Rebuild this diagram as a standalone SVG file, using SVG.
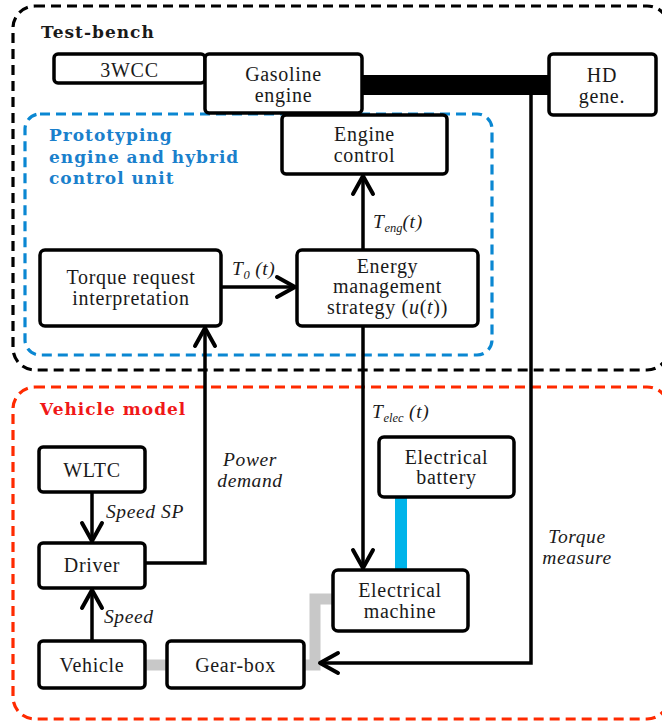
<svg xmlns="http://www.w3.org/2000/svg" width="662" height="724" viewBox="0 0 662 724">
<defs>
<style>
.box{fill:#fff;stroke:#000;stroke-width:3.5}
.t{font-family:"Liberation Serif","DejaVu Serif",serif;font-size:20px;letter-spacing:0.7px;fill:#1a1a1a;text-anchor:middle}
.i{font-family:"Liberation Serif","DejaVu Serif",serif;font-size:19.5px;letter-spacing:0.6px;font-style:italic;fill:#1a1a1a}
.h{font-family:"DejaVu Serif","Liberation Serif",serif;font-size:17px;font-weight:bold;letter-spacing:1px}
.sub{font-size:12.5px;letter-spacing:0}
.c{fill:none;stroke:#000;stroke-width:3.5;stroke-linejoin:miter}
.cont{fill:none;stroke-width:3.2;stroke-dasharray:10 6}
</style>
<marker id="arr" markerUnits="userSpaceOnUse" viewBox="-22 -13 25 26" markerWidth="25" markerHeight="26" refX="0" refY="0" orient="auto">
<path d="M-18,-10 L0,0 L-18,10" fill="none" stroke="#000" stroke-width="4" stroke-linecap="round" stroke-linejoin="round"/>
</marker>
</defs>
<rect width="662" height="724" fill="#fff"/>

<g id="containers">
<rect class="cont" x="13" y="6" width="656" height="364" rx="22" stroke="#000"/>
<rect class="cont" x="25" y="114" width="467" height="241" rx="15" stroke="#0a87d2"/>
<rect class="cont" x="13" y="387" width="656" height="332" rx="22" stroke="#ff2a00"/>
<text class="h" x="41" y="38" fill="#1a1a1a">Test-bench</text>
<text class="h" fill="#1a80cc"><tspan x="49" y="141">Prototyping</tspan><tspan x="49" y="163">engine and hybrid</tspan><tspan x="49" y="184">control unit</tspan></text>
<text class="h" x="40" y="415" fill="#f01818">Vehicle model</text>
</g>

<g id="connectors">
<rect x="362" y="75" width="187" height="20" fill="#000"/>
<path d="M401,497 V570" stroke="#00b4ea" stroke-width="12" fill="none"/>
<path d="M145,665 H167" stroke="#c8c8c8" stroke-width="11" fill="none"/>
<path d="M304,665 H315 V599 H333" stroke="#c8c8c8" stroke-width="11" fill="none"/>
<path class="c" d="M531,95 V663 H320" marker-end="url(#arr)"/>
<path class="c" d="M222,287 H295" marker-end="url(#arr)"/>
<path class="c" d="M363,250 V176" marker-end="url(#arr)"/>
<path class="c" d="M363,326 V568" marker-end="url(#arr)"/>
<path class="c" d="M92,492 V541" marker-end="url(#arr)"/>
<path class="c" d="M92,641 V590" marker-end="url(#arr)"/>
<path class="c" d="M145,563 H205 V328" marker-end="url(#arr)"/>
<text class="i" x="232" y="275">T<tspan class="sub" dy="4">0</tspan><tspan dy="-4"> (t)</tspan></text>
<text class="i" x="373" y="228">T<tspan class="sub" dy="4">eng</tspan><tspan dy="-4">(t)</tspan></text>
<text class="i" x="372" y="418">T<tspan class="sub" dy="4">elec</tspan><tspan dy="-4"> (t)</tspan></text>
<text class="i" x="106" y="518">Speed SP</text>
<text class="i" x="104" y="623">Speed</text>
<text class="i" text-anchor="middle"><tspan x="250" y="466">Power</tspan><tspan x="250" y="487">demand</tspan></text>
<text class="i" text-anchor="middle"><tspan x="577" y="543">Torque</tspan><tspan x="577" y="564">measure</tspan></text>
</g>

<g id="n3wcc"><rect class="box" x="54" y="54" width="151" height="29" rx="4"/><text class="t" x="129.5" y="77">3WCC</text></g>
<g id="gasoline"><rect class="box" x="205" y="54" width="157" height="59" rx="4"/><text class="t"><tspan x="283.5" y="81">Gasoline</tspan><tspan x="283.5" y="102">engine</tspan></text></g>
<g id="hd"><rect class="box" x="549" y="54" width="107" height="61" rx="4"/><text class="t"><tspan x="602" y="82">HD</tspan><tspan x="602" y="103">gene.</tspan></text></g>
<g id="enginecontrol"><rect class="box" x="282" y="115" width="165" height="59" rx="4"/><text class="t"><tspan x="364.5" y="141">Engine</tspan><tspan x="364.5" y="162">control</tspan></text></g>
<g id="torquereq"><rect class="box" x="40" y="250" width="181" height="76" rx="5"/><text class="t"><tspan x="131" y="284">Torque request</tspan><tspan x="131" y="305">interpretation</tspan></text></g>
<g id="ems"><rect class="box" x="297" y="250" width="181" height="76" rx="5"/><text class="t"><tspan x="387.5" y="273">Energy</tspan><tspan x="387.5" y="293">management</tspan><tspan x="387.5" y="314">strategy (<tspan font-style="italic">u</tspan>(<tspan font-style="italic">t</tspan>))</tspan></text></g>
<g id="battery"><rect class="box" x="379" y="437" width="135" height="60" rx="5"/><text class="t"><tspan x="446.5" y="464">Electrical</tspan><tspan x="446.5" y="484">battery</tspan></text></g>
<g id="machine"><rect class="box" x="333" y="570" width="135" height="61" rx="5"/><text class="t"><tspan x="400" y="597">Electrical</tspan><tspan x="400" y="618">machine</tspan></text></g>
<g id="wltc"><rect class="box" x="39" y="447" width="106" height="45" rx="4"/><text class="t" x="92" y="477">WLTC</text></g>
<g id="driver"><rect class="box" x="39" y="543" width="106" height="45" rx="4"/><text class="t" x="92" y="572">Driver</text></g>
<g id="vehicle"><rect class="box" x="39" y="641" width="106" height="47" rx="4"/><text class="t" x="92" y="672">Vehicle</text></g>
<g id="gearbox"><rect class="box" x="167" y="641" width="137" height="47" rx="4"/><text class="t" x="235.5" y="672">Gear-box</text></g>
</svg>
